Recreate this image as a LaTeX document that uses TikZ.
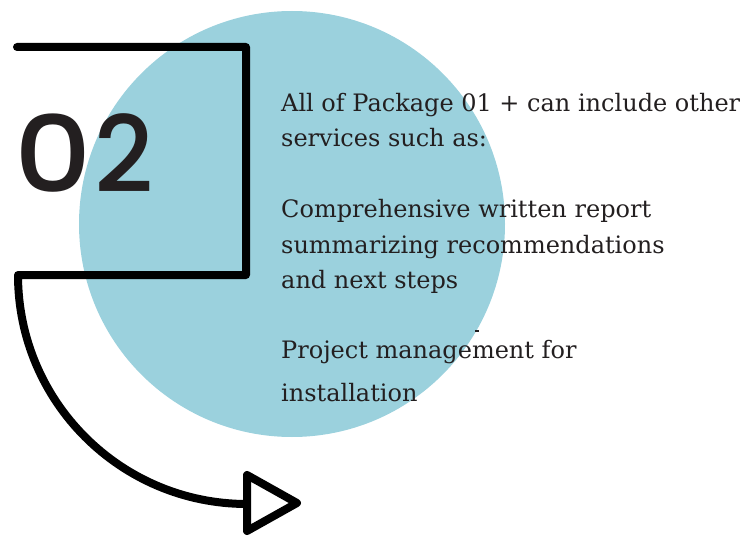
\documentclass[tikz,border=0pt]{standalone}
\usepackage{fontspec}
\setmainfont{DejaVu Serif}
\newfontfamily\numfont{Poppins Medium}
\definecolor{circ}{RGB}{155,209,221}
\definecolor{ink}{RGB}{35,31,32}
\begin{document}
\begin{tikzpicture}[x=1pt,y=1pt,
  bline/.style={line width=8pt, line cap=round, line join=round, draw=black},
  txt/.style={anchor=base west, inner sep=0pt, text=ink, font=\fontsize{24}{30}\selectfont}]
\useasboundingbox (0,0) rectangle (750,542);
\node[circle, fill=circ, minimum size=426pt, inner sep=0pt] (disc) at (292,318) {};
\node[anchor=base west, inner sep=0pt, text=ink, font=\numfont\fontsize{106}{106}\selectfont] (num) at (14,349) {\scalebox{1.14}[1]{0}\hspace{3pt}\scalebox{0.97}[1]{2}};
\coordinate (start) at (17,495);
\coordinate (c1) at (246,495);
\coordinate (c2) at (246,267);
\coordinate (c3) at (18,267);
\coordinate (t1) at (247,67);
\coordinate (tip) at (297,39);
\coordinate (t2) at (247,11);
\draw[bline] (start) -- (c1) -- (c2) -- (c3) arc[start angle=180,end angle=270,radius=229] coordinate (end);
\draw[bline, fill=white] (t1) -- (tip) -- (t2) -- cycle;
\node[txt] (l1) at (281,430) {All of Package 01 + can include other};
\node[txt] (l2) at (281,395) {services such as:};
\node[txt] (l3) at (281,325) {Comprehensive written report};
\node[txt] (l4) at (281,289) {summarizing recommendations};
\node[txt] (l5) at (281,254) {and next steps};
\node[txt] (l6) at (281,184) {Project management for};
\node[txt] (l7) at (281,141) {installation};
\coordinate (d1) at (475,211);
\coordinate (d2) at (479,211);
\draw[ink, line width=1.2pt] (d1) -- (d2);
\end{tikzpicture}
\end{document}
